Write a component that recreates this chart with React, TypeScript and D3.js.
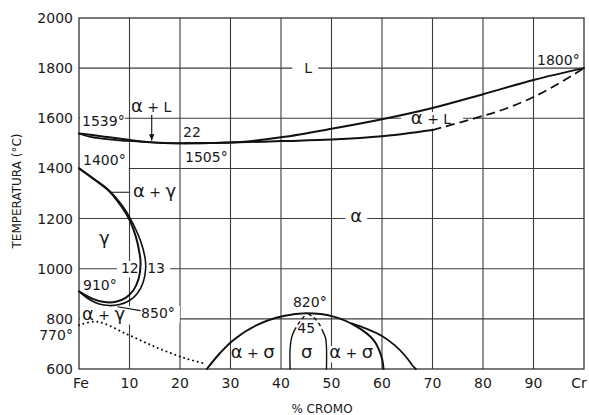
import React, { useMemo } from "react";
import * as d3 from "d3";

const WIDTH = 589;
const HEIGHT = 415;

type P = [number, number];

// ---- axes ----
const X_TICKS = [0, 10, 20, 30, 40, 50, 60, 70, 80, 90, 100];
const X_TICK_LABELS = ["Fe", "10", "20", "30", "40", "50", "60", "70", "80", "90", "Cr"];
const Y_TICKS = [600, 800, 1000, 1200, 1400, 1600, 1800, 2000];
const Y_TICK_LABELS = ["600", "800", "1000", "1200", "1400", "1600", "1800", "2000"];
const X_TITLE = "% CROMO";
const Y_TITLE = "TEMPERATURA (°C)";

// ---- phase boundaries (% Cr, °C) ----
const LIQUIDUS_FE: P[] = [[0, 1539], [3, 1532], [6, 1524], [9, 1516], [12, 1508], [16, 1502], [21, 1500]];
const SOLIDUS_FE: P[] = [[0, 1539], [1, 1532], [2.5, 1525], [5, 1518], [8, 1512], [12, 1507], [16, 1502], [21, 1500]];
const LIQUIDUS_CR: P[] = [[21, 1500], [26, 1501], [32, 1505], [40, 1524], [50, 1558], [60, 1596], [70, 1641], [80, 1696], [90, 1753], [100, 1800]];
const SOLIDUS_CR: P[] = [[21, 1500], [30, 1503], [40, 1509], [50, 1515], [60, 1528], [70, 1553]];
const SOLIDUS_CR_DASHED: P[] = [[70, 1553], [78, 1598], [85, 1642], [92, 1705], [100, 1800]];

const GAMMA_INNER: P[] = [[0, 1400], [3, 1356], [6, 1309], [8.5, 1245], [10, 1195], [11.3, 1125], [12, 1060], [12.2, 1020], [11.8, 960], [10.8, 915], [9.3, 885], [7.3, 868], [5, 867], [2.5, 882], [0, 910]];
const GAMMA_OUTER: P[] = [[0, 1400], [3, 1358], [6, 1312], [8.7, 1248], [10.3, 1195], [12.2, 1110], [13.1, 1040], [13.2, 1000], [12.7, 945], [11.5, 900], [10, 873], [8, 857], [6, 853], [4, 859], [2, 878], [0, 910]];

const MAGNETIC: P[] = [[0, 775], [3.5, 789], [9.8, 736], [15.7, 683], [21, 643], [24.6, 623]];

const SIGMA_DOME: P[] = [[25.3, 600], [27.9, 663], [30.6, 716], [35.2, 775], [40.5, 811], [45, 822], [50.4, 809], [55, 769], [58.3, 716], [59.9, 649], [60.3, 600]];
const SIGMA_OUTER: P[] = [[54, 782], [57, 760], [60, 732], [62.5, 695], [64.7, 650], [66, 615], [66.7, 600]];
const SIGMA_LEFT: P[] = [[41.8, 600], [41.8, 680], [42.1, 725], [42.6, 752]];
const SIGMA_LEFT_DASHED: P[] = [[42.6, 752], [43.5, 782], [44.5, 808], [45, 820]];
const SIGMA_RIGHT: P[] = [[49, 600], [49, 690], [48.8, 725], [48.4, 745]];
const SIGMA_RIGHT_DASHED: P[] = [[48.4, 745], [47.6, 778], [46.5, 805], [45.4, 820]];

// ---- leaders ----
const LEADER_AG: P[] = [[6.2, 1305], [9.8, 1305]];
const LEADER_850: P[] = [[7.7, 848], [12.1, 833]];
const ARROW_AL: P[] = [[14.4, 1612], [14.4, 1513]];

// ---- annotations (text, % Cr, °C) ----
type Ann = { text: string; x: number; t: number; anchor?: "start" | "middle" | "end"; pad?: [number, number] };
const ANNOTATIONS: Ann[] = [
  { text: "L", x: 45.4, t: 1781, anchor: "middle", pad: [12, 6] },
  { text: "α + L", x: 14.3, t: 1625, anchor: "middle" },
  { text: "1539°", x: 0.6, t: 1569, pad: [2, 0] },
  { text: "22", x: 20.6, t: 1525 },
  { text: "1505°", x: 21, t: 1426 },
  { text: "1400°", x: 0.8, t: 1414, pad: [2, 3] },
  { text: "α + γ", x: 10.7, t: 1286 },
  { text: "γ", x: 5, t: 1099, anchor: "middle" },
  { text: "12", x: 8.3, t: 983, pad: [4, 4] },
  { text: "13", x: 13.5, t: 983, pad: [4, 5] },
  { text: "910°", x: 0.8, t: 915 },
  { text: "α + γ", x: 0.6, t: 795, pad: [2, 10] },
  { text: "850°", x: 12.3, t: 803, pad: [12, 5] },
  { text: "770°", x: -1.2, t: 716, anchor: "end" },
  { text: "1800°", x: 90.7, t: 1813 },
  { text: "α + L", x: 69.7, t: 1577, anchor: "middle", pad: [10, 12] },
  { text: "α", x: 54.9, t: 1186, anchor: "middle", pad: [5, 5] },
  { text: "820°", x: 45.7, t: 847, anchor: "middle" },
  { text: "45", x: 45, t: 744, anchor: "middle" },
  { text: "α + σ", x: 34.4, t: 644, anchor: "middle" },
  { text: "σ", x: 45.1, t: 644, anchor: "middle" },
  { text: "α + σ", x: 53.9, t: 644, anchor: "middle", pad: [3, 3] },
];

const FONT = "'DejaVu Sans', Verdana, sans-serif";
const BASE = 14;
const GREEK_SIZE = 18;
const GREEK_SPLIT = /([αγσ])/;
const IS_GREEK = /^[αγσ]$/;

function segs(s: string) {
  return s.split(GREEK_SPLIT).filter((p) => p.length > 0);
}

export default function App() {
  const x = d3.scaleLinear().domain([0, 100]).range([79, 584]);
  const y = d3.scaleLinear().domain([600, 2000]).range([369, 18]);
  const smooth = d3.line<P>().x((d) => x(d[0])).y((d) => y(d[1])).curve(d3.curveCatmullRom.alpha(0.5));
  const straight = d3.line<P>().x((d) => x(d[0])).y((d) => y(d[1]));

  const measure = useMemo(() => {
    const c = document.createElement("canvas").getContext("2d");
    return (s: string) => {
      if (!c) return s.length * 8;
      let w = 0;
      for (const p of segs(s)) {
        c.font = `${IS_GREEK.test(p) ? GREEK_SIZE : BASE}px ${FONT}`;
        w += c.measureText(p).width;
      }
      return w;
    };
  }, []);

  const x0 = x(0), x1 = x(100), yTop = y(2000), yBot = y(600);
  const grid = "#3c3c3c";
  const last = X_TICKS.length - 1;

  return (
    <div style={{ position: "absolute", left: 0, top: 0 }}>
      <svg width={WIDTH} height={HEIGHT} style={{ display: "block", fontFamily: FONT }}>
        <defs>
          <marker id="arrow" viewBox="0 0 10 10" refX="9" refY="5" markerWidth="6" markerHeight="6" orient="auto">
            <path d="M0,1 L10,5 L0,9 z" fill="#111" />
          </marker>
        </defs>
        <rect width={WIDTH} height={HEIGHT} fill="#fff" />
        {/* grid */}
        {X_TICKS.slice(1, -1).map((t) => (
          <line key={"gx" + t} x1={x(t)} x2={x(t)} y1={yTop} y2={yBot} stroke={grid} strokeWidth={1.1} />
        ))}
        {Y_TICKS.slice(1, -1).map((t) => (
          <line key={"gy" + t} x1={x0} x2={x1} y1={y(t)} y2={y(t)} stroke={grid} strokeWidth={1.1} />
        ))}
        <rect x={x0} y={yTop} width={x1 - x0} height={yBot - yTop} fill="none" stroke="#333" strokeWidth={1.3} />

        {/* label knockouts */}
        {ANNOTATIONS.filter((a) => a.pad).map((a, i) => {
          const w = measure(a.text);
          const px = x(a.x);
          const py = y(a.t);
          const anchor = a.anchor || "start";
          const start = anchor === "start" ? px : anchor === "middle" ? px - w / 2 : px - w;
          const [pl, pr] = a.pad as [number, number];
          return <rect key={"ko" + i} x={start - pl} y={py - 12} width={w + pl + pr} height={16.5} fill="#fff" />;
        })}

        {/* curves */}
        <g fill="none" stroke="#111" strokeLinejoin="round" strokeLinecap="round">
          <path d={smooth(LIQUIDUS_FE) || ""} strokeWidth={2} />
          <path d={smooth(SOLIDUS_FE) || ""} strokeWidth={1.6} />
          <path d={smooth(LIQUIDUS_CR) || ""} strokeWidth={2} />
          <path d={smooth(SOLIDUS_CR) || ""} strokeWidth={2} />
          <path d={smooth(SOLIDUS_CR_DASHED) || ""} strokeWidth={1.8} strokeDasharray="9 5" strokeLinecap="butt" />
          <path d={smooth(GAMMA_INNER) || ""} strokeWidth={2} />
          <path d={smooth(GAMMA_OUTER) || ""} strokeWidth={1.6} />
          <path d={smooth(MAGNETIC) || ""} strokeWidth={2} strokeDasharray="0.1 4.6" />
          <path d={smooth(SIGMA_DOME) || ""} strokeWidth={2} />
          <path d={smooth(SIGMA_OUTER) || ""} strokeWidth={1.8} />
          <path d={smooth(SIGMA_LEFT) || ""} strokeWidth={1.4} />
          <path d={smooth(SIGMA_LEFT_DASHED) || ""} strokeWidth={1.4} strokeDasharray="4 3" strokeLinecap="butt" />
          <path d={smooth(SIGMA_RIGHT) || ""} strokeWidth={1.4} />
          <path d={smooth(SIGMA_RIGHT_DASHED) || ""} strokeWidth={1.4} strokeDasharray="4 3" strokeLinecap="butt" />
          <path d={straight(LEADER_AG) || ""} strokeWidth={1.1} />
          <path d={straight(LEADER_850) || ""} strokeWidth={1.1} />
          <path d={straight(ARROW_AL) || ""} strokeWidth={1.1} markerEnd="url(#arrow)" />
        </g>

        {/* annotations */}
        {ANNOTATIONS.map((a, i) => (
          <text key={"a" + i} x={x(a.x)} y={y(a.t)} textAnchor={a.anchor || "start"} fontSize={BASE} fill="#1a1a1a" style={{ whiteSpace: "pre" }}>
            {segs(a.text).map((p, j) =>
              IS_GREEK.test(p) ? (
                <tspan key={j} fontSize={GREEK_SIZE}>{p}</tspan>
              ) : (
                <tspan key={j}>{p}</tspan>
              )
            )}
          </text>
        ))}

        {/* tick labels */}
        {Y_TICKS.map((t, i) => (
          <text key={"yt" + t} x={73} y={y(t)} textAnchor="end" dominantBaseline="central" fontSize={BASE} fill="#1a1a1a">
            {Y_TICK_LABELS[i]}
          </text>
        ))}
        {X_TICKS.map((t, i) => (
          <text key={"xt" + t} x={x(t) + (i === 0 ? 2 : i === last ? -5 : 0)} y={388} textAnchor="middle" fontSize={BASE} fill="#1a1a1a">
            {X_TICK_LABELS[i]}
          </text>
        ))}
        <text x={322} y={413} textAnchor="middle" fontSize={12} fill="#1a1a1a">{X_TITLE}</text>
        <text transform="translate(17,191) rotate(-90)" textAnchor="middle" dominantBaseline="central" fontSize={12} fill="#1a1a1a">
          {Y_TITLE}
        </text>
      </svg>
    </div>
  );
}
